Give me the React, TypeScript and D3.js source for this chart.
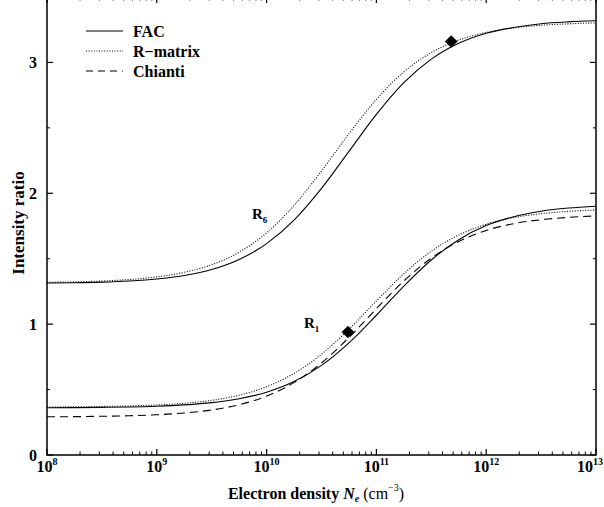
import React from "react";
import * as d3 from "d3";

// log10 of electron density sample points
const neExp = [8, 8.25, 8.5, 8.75, 9, 9.25, 9.5, 9.75, 10, 10.25, 10.5, 10.75, 11, 11.25, 11.5, 11.75, 12, 12.25, 12.5, 12.75, 13];
const r6FAC = [1.314, 1.316, 1.321, 1.33, 1.345, 1.372, 1.417, 1.494, 1.615, 1.795, 2.037, 2.32, 2.603, 2.845, 3.025, 3.146, 3.223, 3.267, 3.296, 3.31, 3.318];
const r6RMatrix = [1.32, 1.323, 1.33, 1.341, 1.361, 1.396, 1.454, 1.55, 1.697, 1.907, 2.17, 2.455, 2.718, 2.928, 3.075, 3.171, 3.229, 3.264, 3.284, 3.295, 3.302];
const r1FAC = [0.361, 0.362, 0.364, 0.367, 0.373, 0.383, 0.4, 0.43, 0.48, 0.561, 0.685, 0.857, 1.068, 1.291, 1.49, 1.645, 1.753, 1.821, 1.863, 1.887, 1.901];
const r1RMatrix = [0.367, 0.368, 0.371, 0.375, 0.382, 0.395, 0.418, 0.457, 0.522, 0.623, 0.77, 0.961, 1.177, 1.385, 1.557, 1.681, 1.763, 1.814, 1.844, 1.862, 1.872];
const r1Chianti = [0.292, 0.293, 0.296, 0.3, 0.308, 0.321, 0.344, 0.384, 0.45, 0.553, 0.703, 0.898, 1.118, 1.33, 1.505, 1.632, 1.716, 1.768, 1.798, 1.816, 1.827];

const diamondNe = [4.8e11, 5.5e10];
const diamondVal = [3.16, 0.94];

const xTickExp = [8, 9, 10, 11, 12, 13];
const yTicks = [0, 1, 2, 3];
const yMinorTicks = [0.5, 1.5, 2.5, 3.5];

const legendLabels = ["FAC", "R\u2212matrix", "Chianti"];

const W = 604, H = 507;
const left = 47, right = 596, top = -3, bottom = 455;
const font = "'Liberation Serif', 'Times New Roman', serif";

export default function App() {
  const x = d3.scaleLog().domain([1e8, 1e13]).range([left, right]);
  const y = d3.scaleLinear().domain([0, 3.5]).range([bottom, top]);

  const mk = (vals: number[]) =>
    d3.line<number>()
      .x((_, i) => x(Math.pow(10, neExp[i])))
      .y((v) => y(v))
      .curve(d3.curveMonotoneX)(vals) as string;

  const minorX: number[] = [];
  for (let e = 8; e < 13; e++) for (let m = 2; m <= 9; m++) minorX.push(m * Math.pow(10, e));

  const series = [
    { d: r6FAC, dash: "none" },
    { d: r6RMatrix, dash: "1,1.6" },
    { d: r1FAC, dash: "none" },
    { d: r1RMatrix, dash: "1,1.6" },
    { d: r1Chianti, dash: "8,5" },
  ];
  const legendDash = ["none", "1,1.6", "7,5"];

  return (
    <svg width={W} height={H} style={{ position: "absolute", left: 0, top: 0, background: "#fff" }} fontFamily={font}>
      {/* curves */}
      {series.map((s, i) => (
        <path key={i} d={mk(s.d)} fill="none" stroke="#000" strokeWidth={1.1} strokeDasharray={s.dash} />
      ))}
      {/* diamonds */}
      {diamondNe.map((n, i) => (
        <rect key={i} x={-4.5} y={-4.5} width={9} height={9} fill="#000"
          transform={`translate(${x(n)},${y(diamondVal[i])}) rotate(45)`} />
      ))}
      {/* frame */}
      <rect x={left} y={top} width={right - left} height={bottom - top} fill="none" stroke="#000" strokeWidth={1.5} />
      {/* x ticks */}
      {xTickExp.map((e, i) => {
        const px = x(Math.pow(10, e));
        const last = i === xTickExp.length - 1;
        return (
          <g key={e}>
            <line x1={px} x2={px} y1={bottom} y2={bottom - 6} stroke="#000" strokeWidth={1.2} />
            <line x1={px} x2={px} y1={top} y2={top + 6} stroke="#000" strokeWidth={1.2} />
            <text x={last ? 603 : px} y={bottom + 17} textAnchor={last ? "end" : "middle"} fontSize={16} fontWeight="bold">
              10<tspan dy={-7} fontSize={10}>{e}</tspan>
            </text>
          </g>
        );
      })}
      {minorX.map((v, i) => (
        <g key={i}>
          <line x1={x(v)} x2={x(v)} y1={bottom} y2={bottom - 3.5} stroke="#000" strokeWidth={1} />
          <line x1={x(v)} x2={x(v)} y1={top} y2={top + 3.5} stroke="#000" strokeWidth={1} />
        </g>
      ))}
      {/* y ticks */}
      {yTicks.map((t) => (
        <g key={t}>
          <line x1={left} x2={left + 6} y1={y(t)} y2={y(t)} stroke="#000" strokeWidth={1.2} />
          <line x1={right} x2={right - 6} y1={y(t)} y2={y(t)} stroke="#000" strokeWidth={1.2} />
          <text x={37} y={y(t) + 5.5} textAnchor="end" fontSize={16} fontWeight="bold">{t}</text>
        </g>
      ))}
      {yMinorTicks.map((t) => (
        <g key={t}>
          <line x1={left} x2={left + 3} y1={y(t)} y2={y(t)} stroke="#000" strokeWidth={1} />
          <line x1={right} x2={right - 3} y1={y(t)} y2={y(t)} stroke="#000" strokeWidth={1} />
        </g>
      ))}
      {/* axis titles */}
      <text x={316} y={499} textAnchor="middle" fontSize={16}>
        <tspan fontWeight="bold">Electron density </tspan>
        <tspan fontWeight="bold" fontStyle="italic">N</tspan>
        <tspan fontWeight="bold" fontStyle="italic" fontSize={10} dy={3}>e</tspan>
        <tspan dy={-3}> (cm</tspan>
        <tspan fontSize={10} dy={-8}>−3</tspan>
        <tspan dy={8}>)</tspan>
      </text>
      <text transform={`translate(24,223) rotate(-90)`} textAnchor="middle" fontSize={17} fontWeight="bold">Intensity ratio</text>
      {/* legend */}
      {legendLabels.map((l, i) => (
        <g key={l}>
          <line x1={86} x2={123} y1={31 + i * 20} y2={31 + i * 20} stroke="#000" strokeWidth={1.1} strokeDasharray={legendDash[i]} />
          <text x={133} y={36.5 + i * 20} fontSize={16} fontWeight="bold">{l}</text>
        </g>
      ))}
      {/* curve labels */}
      <text x={252} y={219} fontSize={15} fontWeight="bold">R<tspan fontSize={9} dy={4}>6</tspan></text>
      <text x={304} y={328} fontSize={15} fontWeight="bold">R<tspan fontSize={9} dy={4}>1</tspan></text>
    </svg>
  );
}
